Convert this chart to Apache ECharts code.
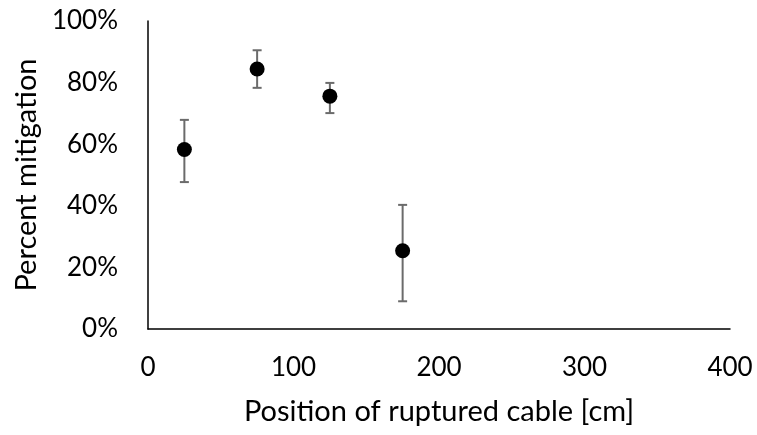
<!DOCTYPE html>
<html>
<head>
<meta charset="utf-8">
<script src="https://cdn.jsdelivr.net/npm/echarts@6/dist/echarts.min.js"></script>
<style>html,body{margin:0;padding:0;background:#fff}#c{width:757px;height:435px}</style>
</head>
<body>
<div id="c"></div>
<script>
var positions = [25, 75, 125, 175];
var mitigation = [58.3, 84.4, 75.6, 25.4];
var errLow = [47.7, 78.3, 70.1, 9.0];
var errHigh = [67.9, 90.5, 79.9, 40.3];
var xTicks = [0, 100, 200, 300, 400];
var yTicks = [0, 20, 40, 60, 80, 100];

var FONT = 'Lato';
var chart = echarts.init(document.getElementById('c'), null, {renderer: 'canvas'});
var errData = positions.map(function (x, i) { return [x, errLow[i], errHigh[i]]; });
var ptData = positions.map(function (x, i) { return [x, mitigation[i]]; });

chart.setOption({
  animation: false,
  backgroundColor: '#fff',
  grid: {left: 148, right: 27, top: 21, bottom: 106, containLabel: false, outerBoundsMode: 'none'},
  xAxis: {
    type: 'value', min: xTicks[0], max: xTicks[xTicks.length - 1], interval: 100,
    name: 'Position of ruptured cable [cm]', nameLocation: 'middle', nameGap: 68,
    nameTextStyle: {fontFamily: FONT, fontSize: 29, color: '#000'},
    axisLine: {show: true, lineStyle: {color: '#000', width: 1.5}},
    axisTick: {show: false},
    splitLine: {show: false},
    axisLabel: {fontFamily: FONT, fontSize: 26, color: '#000', margin: 26}
  },
  yAxis: {
    type: 'value', min: yTicks[0], max: yTicks[yTicks.length - 1], interval: 20,
    name: 'Percent mitigation', nameLocation: 'middle', nameGap: 107,
    nameTextStyle: {fontFamily: FONT, fontSize: 29, color: '#000'},
    axisLine: {show: true, lineStyle: {color: '#000', width: 1.5}},
    axisTick: {show: false},
    splitLine: {show: false},
    axisLabel: {fontFamily: FONT, fontSize: 26, color: '#000', margin: 30,
      formatter: function (v) { return v + '%'; }}
  },
  series: [
    {
      type: 'custom',
      data: errData,
      z: 1,
      renderItem: function (params, api) {
        var x = api.value(0);
        var lo = api.coord([x, api.value(1)]);
        var hi = api.coord([x, api.value(2)]);
        var w = 4.5;
        var st = {stroke: '#6b6b6b', lineWidth: 2};
        return {
          type: 'group',
          children: [
            {type: 'line', shape: {x1: hi[0], y1: hi[1], x2: lo[0], y2: lo[1]}, style: st},
            {type: 'line', shape: {x1: hi[0] - w, y1: hi[1], x2: hi[0] + w, y2: hi[1]}, style: st},
            {type: 'line', shape: {x1: lo[0] - w, y1: lo[1], x2: lo[0] + w, y2: lo[1]}, style: st}
          ]
        };
      }
    },
    {
      type: 'scatter',
      data: ptData,
      z: 2,
      symbol: 'circle',
      symbolSize: 15,
      itemStyle: {color: '#000', opacity: 1}
    }
  ]
});
</script>
</body>
</html>
